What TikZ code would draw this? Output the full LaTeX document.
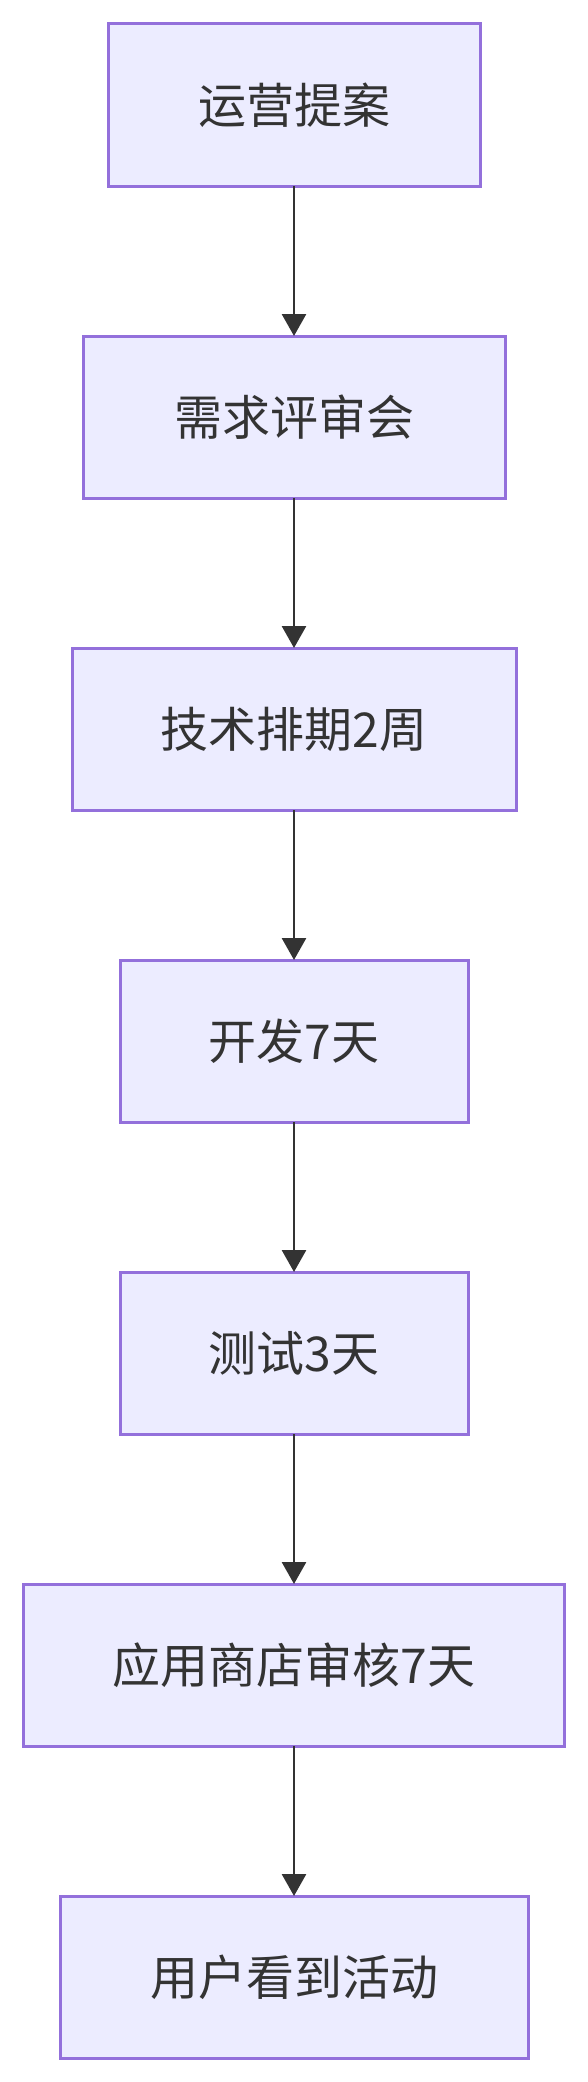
\documentclass[tikz,border=0pt]{standalone}
\usepackage{fontspec}
\usepackage{tikz}
\usetikzlibrary{arrows.meta}
\usetikzlibrary{positioning}

\newfontfamily\cjk{Noto Sans CJK SC}
\definecolor{boxfill}{HTML}{ECECFF}
\definecolor{boxline}{HTML}{9370DB}
\definecolor{linkc}{HTML}{333333}

\begin{document}
\begin{tikzpicture}[>={Triangle[length=11pt,width=12pt]},
        stage/.style={draw=boxline, fill=boxfill, line width=1.5pt, minimum height=81pt, inner sep=0pt, outer sep=0pt,
            text=linkc, font=\cjk\fontsize{24pt}{28pt}\selectfont},
        link/.style={->, draw=linkc, fill=linkc, line width=1.4pt},
        node distance=75pt]
        \useasboundingbox (0,0) rectangle (294pt,-1041pt);

        \node[stage, minimum width=186pt] (tian) at (147pt,-52.5pt) {运营提案};
        \node[stage, minimum width=211pt, below=of tian] (pingshen) {需求评审会};
        \node[stage, minimum width=222pt, below=of pingshen] (paiqi) {技术排期2周};
        \node[stage, minimum width=174pt, below=of paiqi] (kaifa) {开发7天};
        \node[stage, minimum width=174pt, below=of kaifa] (ceshi) {测试3天};
        \node[stage, minimum width=270.5pt, below=of ceshi] (shenhe) {应用商店审核7天};
        \node[stage, minimum width=234pt, below=of shenhe] (yonghu) {用户看到活动};

        \foreach \a/\b in {tian/pingshen, pingshen/paiqi, paiqi/kaifa, kaifa/ceshi, ceshi/shenhe, shenhe/yonghu}
            \draw[link] (\a) -- (\b);

    \end{tikzpicture}
\end{document}
